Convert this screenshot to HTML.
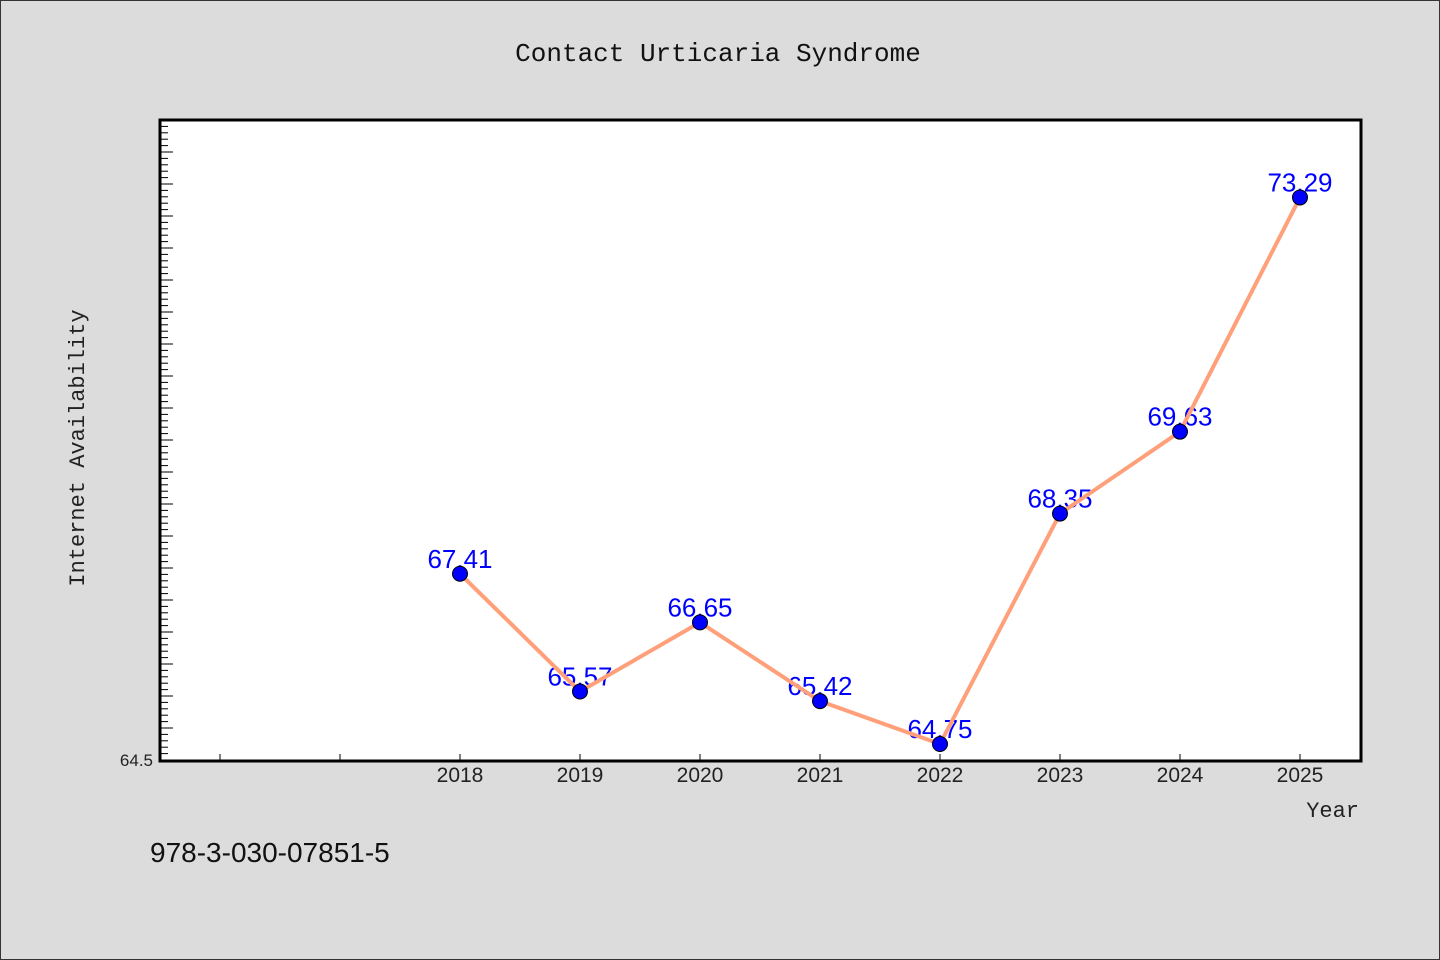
<!DOCTYPE html>
<html><head><meta charset="utf-8"><style>
html,body{margin:0;padding:0;background:#dcdcdc;}
svg{display:block;}
</style></head><body>
<svg id="chart" width="1440" height="960" xmlns="http://www.w3.org/2000/svg">
<rect x="0.5" y="0.5" width="1439" height="959" fill="#dcdcdc" stroke="#333" stroke-width="1"/>
<text x="718" y="61" text-anchor="middle" font-family="'Liberation Mono', monospace" font-size="26" fill="#111">Contact Urticaria Syndrome</text>
<rect x="160" y="120" width="1201" height="641" fill="#fff"/>
<g id="ticks"></g>
<g id="marks"></g>
<rect x="160" y="120" width="1201" height="641" fill="none" stroke="#000" stroke-width="3"/>
<text x="153" y="766" text-anchor="end" font-family="'Liberation Sans', sans-serif" font-size="17" fill="#222">64.5</text>
<text transform="translate(84,448) rotate(-90)" text-anchor="middle" font-family="'Liberation Mono', monospace" font-size="22" fill="#222">Internet Availability</text>
<text x="1359" y="817" text-anchor="end" font-family="'Liberation Mono', monospace" font-size="22" fill="#222">Year</text>
<text x="150" y="862" font-family="'Liberation Sans', sans-serif" font-size="28" fill="#111">978-3-030-07851-5</text>
</svg>
<script>
const years = [2018, 2019, 2020, 2021, 2022, 2023, 2024, 2025];
const values = [67.41, 65.57, 66.65, 65.42, 64.75, 68.35, 69.63, 73.29];
const yMin = 64.5, yMax = 74.5;
const NS = 'http://www.w3.org/2000/svg';
function xScale(yr){ return 460 + (yr - 2018) * 120; }
function yScale(v){ return 760 - (v - yMin) * 64; }
function mk(tag, attrs, parent){ const e = document.createElementNS(NS, tag); for (const k in attrs) e.setAttribute(k, attrs[k]); parent.appendChild(e); return e; }
const tg = document.getElementById('ticks');
const mg = document.getElementById('marks');
// y ticks
for (let i = 0; i <= 100; i++) {
  const v = yMin + i * 0.1;
  const y = yScale(v);
  if (y < 121) break;
  const major = i % 5 === 0;
  const t = mk('line', {x1:160, x2: major ? 173 : 168, y1:y, y2:y, stroke:'#000', 'stroke-width':1}, tg);
  
  
}
// x ticks
for (let yr = 2016; yr <= 2025; yr++) {
  const x = xScale(yr);
  const t = mk('line', {x1:x, x2:x, y1:760, y2:754, stroke:'#000', 'stroke-width':1}, tg);
  
  
}
years.forEach(yr => {
  const t = mk('text', {x:xScale(yr), y:782, 'text-anchor':'middle', 'font-family':"'Liberation Sans', sans-serif", 'font-size':21, fill:'#222'}, tg);
  t.textContent = yr;
  
  
});
// value labels
years.forEach((yr, i) => {
  const t = mk('text', {x:xScale(yr), y:yScale(values[i]) - 6, 'text-anchor':'middle', 'font-family':"'Liberation Sans', sans-serif", 'font-size':26, fill:'#0000ff'}, mg);
  t.textContent = values[i].toFixed(2);
  
  
});
// line
const pts = years.map((yr, i) => xScale(yr) + ',' + yScale(values[i])).join(' ');
const pl = mk('polyline', {points:pts, fill:'none', stroke:'#ffa07a', 'stroke-width':4, 'stroke-linejoin':'round'}, mg);


// points
years.forEach((yr, i) => {
  const c = mk('circle', {cx:xScale(yr), cy:yScale(values[i]), r:7.5, fill:'#0000ff', stroke:'#000', 'stroke-width':1}, mg);
  
  
});
</script>
</body></html>
